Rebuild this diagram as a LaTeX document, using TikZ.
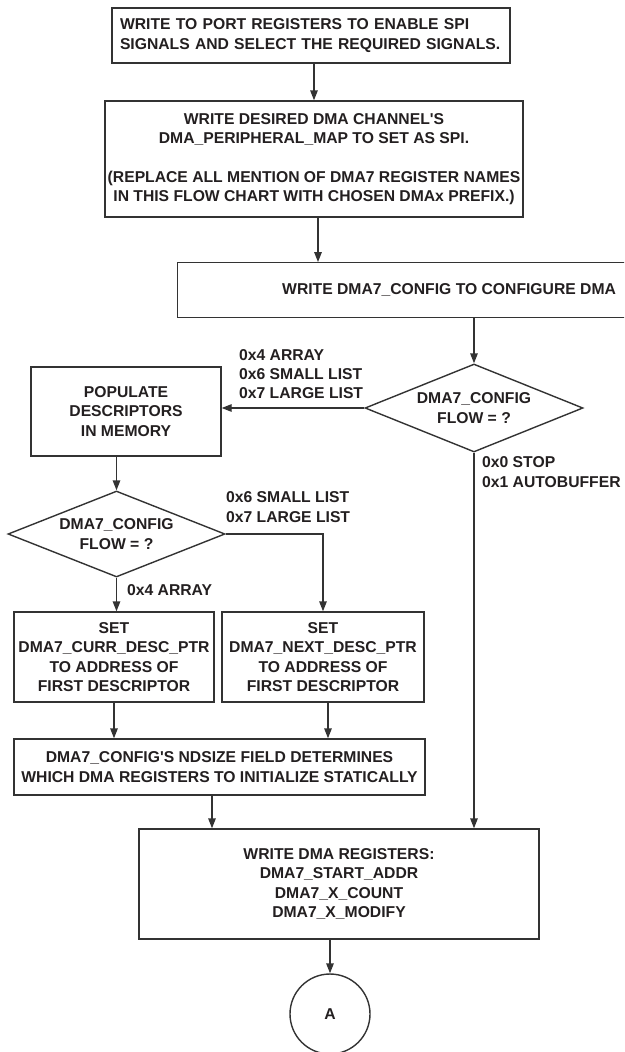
\documentclass[tikz,border=0pt]{standalone}
\usepackage{fontspec}
\setmainfont{Liberation Sans}
\usetikzlibrary{arrows.meta,shapes.geometric}
\definecolor{linec}{HTML}{333333}
\definecolor{txtc}{HTML}{231F20}
\newcommand\fcfont{\fontsize{15.7}{19.3}\selectfont\bfseries}
\begin{document}
\begin{tikzpicture}[x=1pt,y=-1pt,
  box/.style={draw=linec, line width=1.4pt, rectangle, align=center,
    inner sep=0pt, font=\fcfont, text=txtc},
  dec/.style={draw=linec, line width=1.4pt, diamond, aspect=2.47,
    align=center, inner sep=0pt, font=\fcfont, text=txtc},
  lbl/.style={anchor=west, align=left, inner sep=0pt, font=\fcfont, text=txtc},
  arr/.style={draw=linec, line width=1.4pt, -{Triangle[length=10pt,width=7.5pt]}}]
\path[use as bounding box, clip] (0,0) rectangle (624,1052);
\fill[white] (0,0) rectangle (624,1052);

% process boxes
\node[box, align=left, text width=382pt, inner xsep=8pt, minimum height=55pt] (b1) at (311,35.5)
  {WRITE TO PORT REGISTERS TO ENABLE SPI\\SIGNALS AND SELECT THE REQUIRED SIGNALS.};
\node[box, minimum width=418pt, minimum height=116pt] (b2) at (314,159)
  {WRITE DESIRED DMA CHANNEL\textquotesingle S\\DMA\_PERIPHERAL\_MAP TO SET AS SPI.\\[19pt]
   (REPLACE ALL MENTION OF DMA7 REGISTER NAMES\\IN THIS FLOW CHART WITH CHOSEN DMAx PREFIX.)};
% this box runs on past the right edge of the sheet
\node[box, anchor=north west, minimum width=520pt, minimum height=55pt] (b3) at (177,262) {};
\node[anchor=west, inner sep=0pt, font=\fcfont, text=txtc] (t3) at (282,290)
  {WRITE DMA7\_CONFIG TO CONFIGURE DMA};

% first decision
\node[dec, minimum width=218pt, minimum height=88pt] (d1) at (474,408)
  {DMA7\_CONFIG\\FLOW = ?};
\node[box, minimum width=190pt, minimum height=89pt] (b4) at (126,411.5)
  {POPULATE\\DESCRIPTORS\\IN MEMORY};

% second decision
\node[dec, minimum width=217pt, minimum height=86pt] (d2) at (116.5,534)
  {DMA7\_CONFIG\\FLOW = ?};
\node[box, minimum width=200pt, minimum height=90pt] (b5) at (114,657)
  {SET\\DMA7\_CURR\_DESC\_PTR\\TO ADDRESS OF\\FIRST DESCRIPTOR};
\node[box, minimum width=202pt, minimum height=90pt] (b6) at (323,657)
  {SET\\DMA7\_NEXT\_DESC\_PTR\\TO ADDRESS OF\\FIRST DESCRIPTOR};
\node[box, minimum width=411pt, minimum height=56pt] (b7) at (219.5,767)
  {DMA7\_CONFIG\textquotesingle S NDSIZE FIELD DETERMINES\\WHICH DMA REGISTERS TO INITIALIZE STATICALLY};
\node[box, minimum width=400pt, minimum height=110pt] (b8) at (339,884)
  {WRITE DMA REGISTERS:\\DMA7\_START\_ADDR\\DMA7\_X\_COUNT\\DMA7\_X\_MODIFY};
\node[draw=linec, line width=1.4pt, circle, minimum size=80pt, inner sep=0pt,
  font=\fcfont, text=txtc] (c) at (330,1014) {A};

% branch labels
\node[lbl] (l1) at (239,374) {0x4 ARRAY\\0x6 SMALL LIST\\0x7 LARGE LIST};
\node[lbl] (l2) at (482,472) {0x0 STOP\\0x1 AUTOBUFFER};
\node[lbl] (l3) at (226,507) {0x6 SMALL LIST\\0x7 LARGE LIST};
\node[lbl] (l4) at (127,590) {0x4 ARRAY};

% connectors
\draw[arr] (b2.north |- b1.south) -- (b2.north);
\draw[arr] ([xshift=4pt]b2.south) -- ([xshift=4pt]b2.south |- b3.north);
\draw[arr] (d1.north |- b3.south) -- (d1.north);
\draw[arr] (d1.west) -- (d1.west -| b4.east);
\draw[arr] (d2.north |- b4.south) -- (d2.north);
\draw[arr] (d2.east) -| (b6.north);
\draw[arr] (d2.south) -- (d2.south |- b5.north);
\draw[arr] (b5.south) -- (b5.south |- b7.north);
\draw[arr] ([xshift=5pt]b6.south) -- ([xshift=5pt]b6.south |- b7.north);
\draw[arr] ([xshift=-7.5pt]b7.south) -- ([xshift=-7.5pt]b7.south |- b8.north);
\draw[arr] (d1.south) -- (d1.south |- b8.north);
\draw[arr] (c.north |- b8.south) -- (c.north);
\end{tikzpicture}
\end{document}
